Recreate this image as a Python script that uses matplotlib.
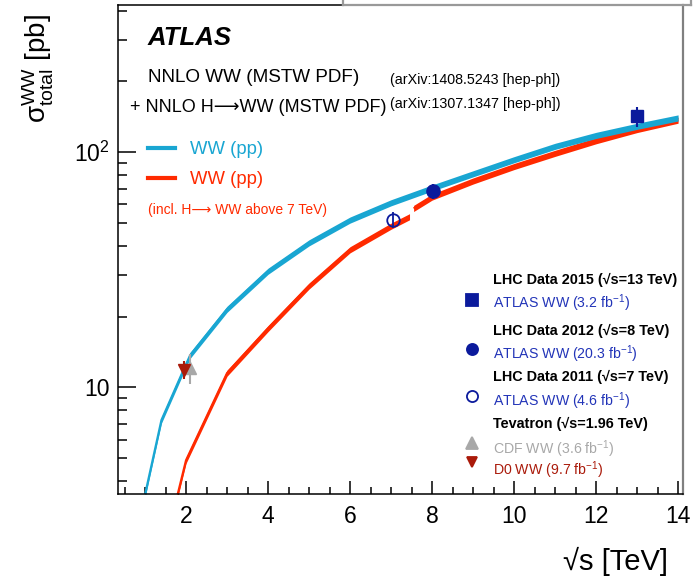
import matplotlib
matplotlib.use('Agg')
import matplotlib.pyplot as plt
import numpy as np
from matplotlib.ticker import FixedLocator, FuncFormatter, MultipleLocator
from matplotlib.lines import Line2D

plt.rcParams['font.family'] = ['Liberation Sans', 'DejaVu Sans']
plt.rcParams['mathtext.default'] = 'regular'

# NNLO WW prediction, p-pbar (blue)
ww_ppbar_sqrts = [1.0, 1.4, 1.96, 2.1, 3, 4, 5, 6, 7, 8, 9, 10, 11, 12, 13, 14]
ww_ppbar_xsec = [3.5, 7.26, 12.1, 13.7, 21.5, 31.2, 41.2, 51.5, 61.0, 70.5, 81.0, 93.0, 106.0, 118.0, 129.0, 140.0]

# NNLO WW prediction, pp (red), below and above the H->WW threshold
ww_pp_low_sqrts = [1.7, 2.0, 3, 4, 5, 6, 7, 7.45]
ww_pp_low_xsec = [3.0, 4.9, 11.5, 17.8, 27.0, 38.5, 48.5, 53.2]
ww_pp_high_sqrts = [7.55, 8, 9, 10, 11, 12, 13, 14]
ww_pp_high_xsec = [57.7, 64.5, 75.5, 87.0, 99.0, 112.0, 125.0, 137.0]

band_frac = 0.03

# measurements: sqrt(s) [TeV], sigma [pb], total uncertainty [pb]
atlas13_x, atlas13_y, atlas13_err = [13.0], [142.0], [14.5]
atlas8_x, atlas8_y, atlas8_err = [8.02], [68.5], [5.0]
atlas7_x, atlas7_y, atlas7_err = [7.05], [51.5], [4.0]
cdf_x, cdf_y, cdf_err = [2.1], [12.1], [1.8]
d0_x, d0_y, d0_err = [1.96], [11.9], [1.0]

c_blue = '#19a6d2'
c_red = '#ff2a00'
c_navy = '#0b1a9c'
c_navy_txt = '#2234b8'
c_gray = '#a8a8a8'
c_d0 = '#aa1a0a'
W, H = 700, 579


def fpos(px, py):
    return px / W, 1 - py / H


def draw_band(ax, xs, ys, colour):
    ys = np.array(ys)
    ax.fill_between(xs, ys * (1 - band_frac), ys * (1 + band_frac), color=colour, lw=0, zorder=2)
    ax.plot(xs, ys, color=colour, lw=1.6, zorder=2, solid_capstyle='butt')


fig = plt.figure(figsize=(W / 100, H / 100), dpi=100)
ax = fig.add_axes([118 / W, 85 / H, 565 / W, 489 / H])
ax.set_yscale('log')
ax.set_xlim(0.34, 14.12)
ax.set_ylim(3.52, 423)

draw_band(ax, ww_pp_low_sqrts, ww_pp_low_xsec, c_red)
draw_band(ax, ww_pp_high_sqrts, ww_pp_high_xsec, c_red)
draw_band(ax, ww_ppbar_sqrts, ww_ppbar_xsec, c_blue)

# data points
ax.errorbar(cdf_x, cdf_y, yerr=cdf_err, fmt='^', color=c_gray, ms=9, elinewidth=1.5, capsize=0, zorder=5)
ax.errorbar(d0_x, d0_y, yerr=d0_err, fmt='v', color=c_d0, ms=8, elinewidth=1.5, capsize=0, zorder=6)
ax.errorbar(atlas7_x, atlas7_y, yerr=atlas7_err, fmt='o', color=c_navy, mfc='none', mew=1.3,
            ms=9, elinewidth=1.3, capsize=0, zorder=5)
ax.errorbar(atlas8_x, atlas8_y, yerr=atlas8_err, fmt='o', color=c_navy, ms=9.5,
            elinewidth=1.5, capsize=0, zorder=5)
ax.errorbar(atlas13_x, atlas13_y, yerr=atlas13_err, fmt='s', color=c_navy, ms=8.5,
            elinewidth=1.5, capsize=0, zorder=5)

# axes style
ax.xaxis.set_major_locator(MultipleLocator(2))
ax.xaxis.set_minor_locator(MultipleLocator(0.5))
ax.yaxis.set_major_locator(FixedLocator([10, 100]))
minor_y = [m * 10 ** e for e in range(0, 3) for m in range(2, 10)]
ax.yaxis.set_minor_locator(FixedLocator(minor_y))
ax.yaxis.set_major_formatter(FuncFormatter(lambda v, p: '10' if v < 50 else '$10^{2}$'))
ax.yaxis.set_minor_formatter(FuncFormatter(lambda v, p: ''))
ax.tick_params(axis='both', which='both', direction='in', width=1.1, color='black',
               labelsize=16.5, top=False, right=False)
ax.tick_params(axis='x', which='major', length=9.5, pad=8)
ax.tick_params(axis='x', which='minor', length=5)
ax.tick_params(axis='y', which='major', length=13, pad=6)
ax.tick_params(axis='y', which='minor', length=6.5)
for s in ['left', 'bottom', 'top']:
    ax.spines[s].set_linewidth(1.1)
    ax.spines[s].set_color('black')
ax.spines['right'].set_color('#808080')
ax.spines['right'].set_linewidth(1.6)

# axis titles
fig.text(*fpos(668, 561), '√s [TeV]', ha='right', va='center', fontsize=21)
fig.text(*fpos(38, 14), r'$σ^{WW}_{total}$ [pb]', rotation=90, ha='center', va='top', fontsize=20)

# gray frame of the neighbouring pad at the top
for xs, ys in [([343, 691], [4.5, 4.5]), ([343, 343], [0, 4.5]), ([691, 691], [0, 4.5])]:
    fig.add_artist(Line2D([x / W for x in xs], [1 - y / H for y in ys], color='#999999', lw=1.6))

# labels, top left
fig.text(*fpos(148, 38), 'ATLAS', fontsize=18.5, fontweight='bold', fontstyle='italic', va='center')
fig.text(*fpos(148, 78), 'NNLO WW (MSTW PDF)', fontsize=13.6, va='center')
fig.text(*fpos(130, 108), '+ NNLO H⟶WW (MSTW PDF)', fontsize=13.0, va='center')
fig.text(*fpos(390, 80), '(arXiv:1408.5243 [hep-ph])', fontsize=10.3, va='center')
fig.text(*fpos(390, 104), '(arXiv:1307.1347 [hep-ph])', fontsize=10.3, va='center')

for py, colour in [(148, c_blue), (178, c_red)]:
    fig.add_artist(Line2D([148 / W, 175 / W], [1 - py / H] * 2, color=colour, lw=3))
    fig.text(*fpos(190, py + 1), 'WW (pp)', fontsize=13.3, color=colour, va='center')
fig.text(*fpos(148, 210), '(incl. H⟶ WW above 7 TeV)', fontsize=10.0, color=c_red, va='center')

# data legend, lower right
legend_rows = [
    (280, 'LHC Data 2015 (√s=13 TeV)', 'black', 'bold'),
    (303, r'ATLAS WW (3.2 fb$^{-1}$)', c_navy_txt, 'normal'),
    (331, 'LHC Data 2012 (√s=8 TeV)', 'black', 'bold'),
    (354, r'ATLAS WW (20.3 fb$^{-1}$)', c_navy_txt, 'normal'),
    (377, 'LHC Data 2011 (√s=7 TeV)', 'black', 'bold'),
    (401, r'ATLAS WW (4.6 fb$^{-1}$)', c_navy_txt, 'normal'),
    (424, 'Tevatron (√s=1.96 TeV)', 'black', 'bold'),
    (449, r'CDF WW (3.6 fb$^{-1}$)', c_gray, 'normal'),
    (470, r'D0 WW (9.7 fb$^{-1}$)', c_d0, 'normal'),
]
for py, label, colour, weight in legend_rows:
    size = 10.4 if weight == 'bold' else 10.2
    fig.text(*fpos(493, py), label, fontsize=size, color=colour, fontweight=weight, va='center')

legend_marks = [
    (300, 's', c_navy, c_navy, 8),
    (349, 'o', c_navy, c_navy, 8),
    (396, 'o', c_navy, 'none', 8),
    (443, '^', c_gray, c_gray, 8),
    (462, 'v', c_d0, c_d0, 7.5),
]
for py, m, ec, fc, ms in legend_marks:
    fig.add_artist(Line2D([472 / W], [1 - py / H], marker=m, color=ec, mfc=fc, mec=ec, ms=ms, mew=1.3, ls='none'))

fig.savefig('out.png', dpi=100)
